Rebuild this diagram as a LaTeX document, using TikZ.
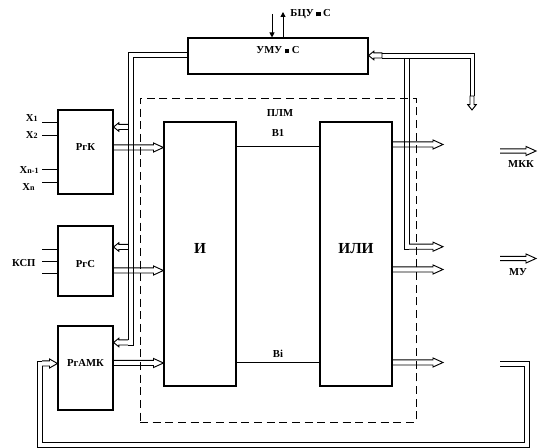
\documentclass[tikz,border=0pt]{standalone}
\usepackage{fontspec}
\setmainfont{Liberation Serif}
\usetikzlibrary{arrows.meta,calc,fit}

\newcommand\idx[1]{{\fontsize{6}{7}\selectfont #1}}
\newcommand\sq{\rule{0.4em}{0.4em}}

\tikzset{
  bus hl/.store in=\bushl, bus hw/.store in=\bushw, bus sw/.store in=\bussw,
  bus hl=7.5pt, bus hw=3.4pt, bus sw=1.9pt,
  bus/.style={to path={let \p1=(\tikztostart), \p2=(\tikztotarget),
      \n1={atan2(\y2-\y1,\x2-\x1)}, \p3=($(\p2)!\bushl!(\p1)$) in
      ([shift={(\n1+90:\bussw)}]\p1) -- ([shift={(\n1+90:\bussw)}]\p3)
      -- ([shift={(\n1+90:\bushw)}]\p3) -- (\p2)
      -- ([shift={(\n1-90:\bushw)}]\p3) -- ([shift={(\n1-90:\bussw)}]\p3)
      -- ([shift={(\n1-90:\bussw)}]\p1)}},
  bus closed/.style={to path={let \p1=(\tikztostart), \p2=(\tikztotarget),
      \n1={atan2(\y2-\y1,\x2-\x1)}, \p3=($(\p2)!\bushl!(\p1)$) in
      ([shift={(\n1+90:\bussw)}]\p1) -- ([shift={(\n1+90:\bussw)}]\p3)
      -- ([shift={(\n1+90:\bushw)}]\p3) -- (\p2)
      -- ([shift={(\n1-90:\bushw)}]\p3) -- ([shift={(\n1-90:\bussw)}]\p3)
      -- ([shift={(\n1-90:\bussw)}]\p1) -- cycle}},
  bus small/.style={bus hl=4pt, bus hw=3.2pt}
}

\begin{document}
\begin{tikzpicture}[x=0.75pt, y=-0.75pt, line width=0.7pt,
  every node/.style={font=\fontsize{8}{9}\selectfont\bfseries},
  box/.style={draw, inner sep=0pt, line width=0.8pt},
  plm/.style={draw, inner sep=0pt, dash pattern=on 6pt off 3.5pt},
  big/.style={font=\fontsize{11.5}{13}\selectfont\bfseries},
  tip/.style={-{Triangle[length=3.75pt, width=3.75pt]}}
]
\useasboundingbox (0,0) rectangle (551,448);

% blocks
\node[box, fit={(188,38) (368,74)}, label={[yshift=4.5pt]center:УМУ \sq{} С}] (umu) {};
\node[box, fit={(58,110) (113,194)}, label={[yshift=3.75pt]center:РгК}] (rgk) {};
\node[box, fit={(58,226) (113,296)}, label={[yshift=-2.25pt]center:РгС}] (rgs) {};
\node[box, fit={(58,326) (113,410)}, label={[yshift=3.75pt]center:РгАМК}] (rgamk) {};
\node[plm, fit={(140,98) (416,422)}] (plm) {};
\node[box, fit={(164,122) (236,386)}, label={[big, yshift=4.5pt]center:И}] (andblk) {};
\node[box, fit={(320,122) (392,386)}, label={[big, yshift=4pt]center:ИЛИ}] (orblk) {};
\node (plmlbl) at (280,113) {ПЛМ};

% inputs
\node[anchor=east, inner sep=0pt] (lx1) at (38,118) {X\idx{1}};
\node[anchor=east, inner sep=0pt] (lx2) at (38,135) {X\idx{2}};
\node[anchor=east, inner sep=0pt] (lx3) at (39,170) {X\idx{n-1}};
\node[anchor=east, inner sep=0pt] (lx4) at (35,187) {X\idx{n}};
\node[anchor=east, inner sep=0pt] (ksp) at (36,263) {КСП};
\foreach \y [count=\i] in {122,135,169,182} {
  \coordinate (x\i) at (42,\y);
  \draw (x\i) -- (x\i -| rgk.west);
}
\foreach \y [count=\i] in {249,261,273} {
  \coordinate (k\i) at (42,\y);
  \draw (k\i) -- (k\i -| rgs.west);
}

% BCU
\coordinate (bin) at (272,14);
\coordinate (bout) at (283,12);
\node[anchor=west, inner sep=0pt] (bcu) at (290,14) {БЦУ \sq{} С};
\draw[tip] (bin) -- (umu.north -| bin);
\draw[tip] (umu.north -| bout) -- (bout);

% registers to AND
\draw[bus] (rgk.east |- 0,147.5) to (andblk.west |- 0,147.5);
\draw[bus] (rgs.east |- 0,270.5) to (andblk.west |- 0,270.5);
\draw[bus] (rgamk.east |- 0,363) to (andblk.west |- 0,363);

% AND to OR
\draw (andblk.east |- 0,146) -- node[above=3.5pt] (b1) {В1} (orblk.west |- 0,146);
\draw (andblk.east |- 0,362) -- node[above] (bi) {Вi} (orblk.west |- 0,362);

% OR outputs
\coordinate (o1) at (443,144.5);
\coordinate (o2) at (443,246.7);
\coordinate (o3) at (443,269.5);
\coordinate (o4) at (443,362.5);
\draw[bus] (orblk.east |- o1) to (o1);
\draw[bus] (orblk.east |- o3) to (o3);
\draw[bus] (orblk.east |- o4) to (o4);

% left bus from UMU
\coordinate (lo) at (128,340);
\coordinate (li) at (133,345);
\draw (umu.west |- 0,52) -| (lo);
\draw (umu.west |- 0,57) -| (li) -- (li -| lo);
\draw[bus, bus small] (128,127) to (rgk.east |- 0,127);
\draw[bus, bus small] (128,247) to (rgs.east |- 0,247);
\draw[bus, bus small] (128,342.5) to (rgamk.east |- 0,342.5);

% right bus to UMU
\coordinate (rt) at (382,55.5);
\coordinate (ru) at (382,53);
\coordinate (rl) at (382,58);
\coordinate (dn) at (472,96);
\coordinate (dnt) at (472,110);
\draw[bus closed, bus small] (rt) to (umu.east |- rt);
\draw (ru) -| (474,96);
\draw (rl) -| (470,96);
\draw[bus closed, bus small, bus sw=1.5pt] (dn) to (dnt);
\draw (404,58) |- (409,249.2);
\draw (409,58) -- (409,244.2);
\draw[bus] (409,246.7) to (o2);

% outputs MKK, MU
\coordinate (mkk0) at (500,151);
\coordinate (mkk1) at (536,151);
\coordinate (mu0) at (500,258.5);
\coordinate (mu1) at (536,258.5);
\draw[bus, bus sw=1.6pt] (mkk0) to (mkk1);
\draw[bus, bus sw=1.6pt] (mu0) to (mu1);
\node (mkk) at (521,164) {МКК};
\node (mu) at (518,272) {МУ};

% feedback to RgAMK
\coordinate (fo) at (500,361);
\coordinate (fi) at (500,366);
\draw (fo) -| (529,447) -| (37,361) -- (42,361);
\draw (fi) -| (524,442) -| (42,366);
\draw[bus, bus hl=6pt] (42,363.5) to (rgamk.west |- 0,363.5);
\end{tikzpicture}
\end{document}
